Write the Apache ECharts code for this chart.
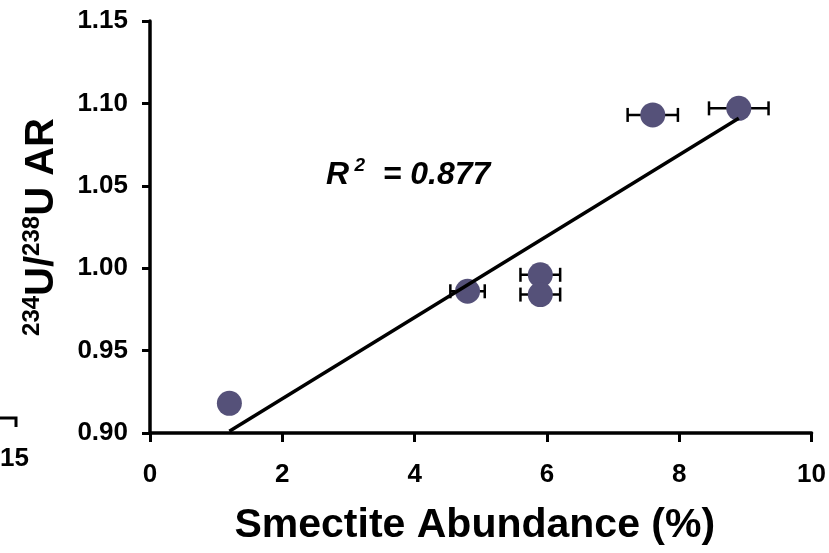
<!DOCTYPE html>
<html>
<head>
<meta charset="utf-8">
<script src="https://cdn.jsdelivr.net/npm/echarts@6/dist/echarts.min.js"></script>
<style>
  html, body { margin: 0; padding: 0; background: #fff; }
  #chart { width: 829px; height: 553px; }
</style>
</head>
<body>
<div id="chart"></div>
<script>
// Smectite abundance (%) vs 234U/238U activity ratio
var smectite = [1.2, 4.8, 5.9, 5.9, 7.6, 8.9];
var uRatio   = [0.918, 0.986, 0.996, 0.984, 1.093, 1.097];
var smectiteErr = [0, 0.26, 0.30, 0.30, 0.38, 0.45];

// Least-squares trend line end points
var trendX = [1.2, 8.9];
var trendY = [0.901, 1.091];

var xTicks = [0, 2, 4, 6, 8, 10];
var yTicks = [0.90, 0.95, 1.00, 1.05, 1.10, 1.15];
var rSquared = '0.877';

var FONT = '"Liberation Sans", Arial, Helvetica, sans-serif';
var MARK = '#555179';

var points = smectite.map(function (x, i) { return [x, uRatio[i]]; });
var errData = smectite.map(function (x, i) { return [x, uRatio[i], smectiteErr[i]]; });
var trend = trendX.map(function (x, i) { return [x, trendY[i]]; });

var chart = echarts.init(document.getElementById('chart'), null, { renderer: 'canvas' });

chart.setOption({
  backgroundColor: '#ffffff',
  animation: false,
  grid: { left: 150, right: 17, top: 21, bottom: 120, containLabel: false },
  xAxis: {
    type: 'value',
    min: xTicks[0],
    max: xTicks[xTicks.length - 1],
    interval: 2,
    name: 'Smectite Abundance (%)',
    nameLocation: 'middle',
    nameGap: 72,
    nameTextStyle: { fontFamily: FONT, fontWeight: 'bold', fontSize: 41, color: '#000', padding: [0, 12, 0, 0] },
    axisLine: { show: true, lineStyle: { color: '#000', width: 3.5 } },
    axisTick: { show: true, inside: false, length: 9, lineStyle: { color: '#000', width: 3 } },
    axisLabel: { margin: 29, fontFamily: FONT, fontWeight: 'bold', fontSize: 26, color: '#000' },
    splitLine: { show: false }
  },
  yAxis: {
    type: 'value',
    min: yTicks[0],
    max: yTicks[yTicks.length - 1],
    interval: 0.05,
    name: '{sup|234}{main|U/}{sup|238}{main|U AR}',
    nameLocation: 'middle',
    nameRotate: 90,
    nameGap: 88,
    nameTextStyle: {
      color: '#000',
      rich: {
        main: { fontFamily: FONT, fontWeight: 'bold', fontSize: 40, color: '#000', verticalAlign: 'bottom', lineHeight: 42 },
        sup: { fontFamily: FONT, fontWeight: 'bold', fontSize: 24, color: '#000', verticalAlign: 'top', lineHeight: 42 }
      }
    },
    axisLine: { show: true, lineStyle: { color: '#000', width: 3.5 } },
    axisTick: { show: true, inside: false, length: 8, lineStyle: { color: '#000', width: 3 } },
    axisLabel: {
      margin: 22, fontFamily: FONT, fontWeight: 'bold', fontSize: 26, color: '#000',
      formatter: function (v) { return v.toFixed(2); }
    },
    splitLine: { show: false }
  },
  graphic: [
    {
      type: 'text',
      left: 326,
      top: 156,
      style: {
        text: '{r|R}{s| 2}{r|  = ' + rSquared + '}',
        rich: {
          r: { fontFamily: FONT, fontWeight: 'bold', fontStyle: 'italic', fontSize: 32, fill: '#000', verticalAlign: 'bottom', lineHeight: 35 },
          s: { fontFamily: FONT, fontWeight: 'bold', fontStyle: 'italic', fontSize: 19, fill: '#000', verticalAlign: 'top', lineHeight: 35 }
        }
      }
    },
    {
      type: 'text',
      left: 0,
      top: 446,
      style: { text: '15', font: 'bold 26px ' + FONT, fill: '#000' }
    },
    {
      type: 'polyline',
      shape: { points: [[0, 418], [16, 418], [16, 427]] },
      style: { stroke: '#000', lineWidth: 3, fill: null }
    }
  ],
  series: [
    {
      // horizontal error bars with end caps
      type: 'custom',
      z: 2,
      data: errData,
      renderItem: function (params, api) {
        var e = api.value(2);
        if (!e) { return { type: 'group', children: [] }; }
        var y = api.value(1);
        var l = api.coord([api.value(0) - e, y]);
        var r = api.coord([api.value(0) + e, y]);
        var cap = 7;
        var st = { stroke: '#000', lineWidth: 2.5 };
        return {
          type: 'group',
          children: [
            { type: 'line', shape: { x1: l[0], y1: l[1], x2: r[0], y2: r[1] }, style: st },
            { type: 'line', shape: { x1: l[0], y1: l[1] - cap, x2: l[0], y2: l[1] + cap }, style: st },
            { type: 'line', shape: { x1: r[0], y1: r[1] - cap, x2: r[0], y2: r[1] + cap }, style: st }
          ]
        };
      }
    },
    {
      type: 'scatter',
      z: 3,
      data: points,
      symbol: 'circle',
      symbolSize: 25,
      itemStyle: { color: MARK, opacity: 1 }
    },
    {
      type: 'line',
      z: 4,
      data: trend,
      showSymbol: false,
      symbol: 'none',
      lineStyle: { color: '#000', width: 3.5 }
    }
  ]
});
</script>
</body>
</html>
